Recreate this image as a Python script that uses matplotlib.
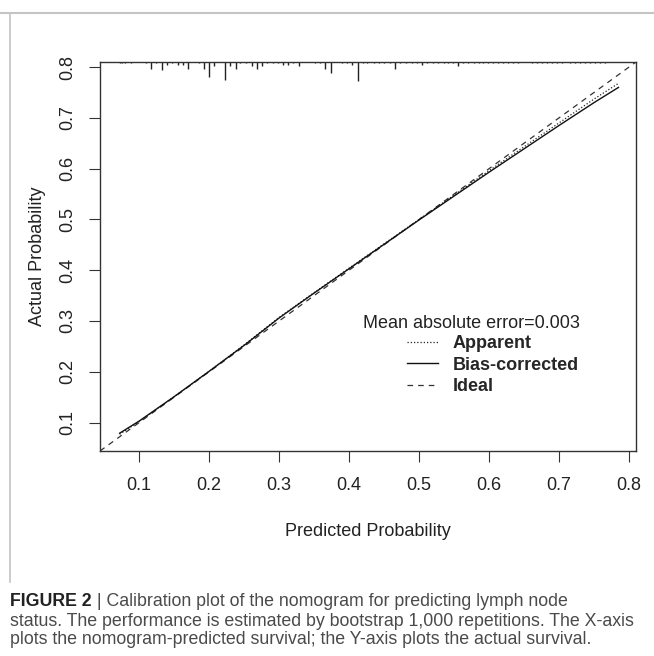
import numpy as np
import matplotlib.pyplot as plt
from matplotlib.lines import Line2D
import matplotlib.transforms as mtransforms

# calibration curves
pred_x = [0.072, 0.10, 0.15, 0.20, 0.25, 0.30, 0.35, 0.40, 0.45, 0.50,
          0.55, 0.60, 0.65, 0.70, 0.75, 0.785]
apparent = [0.077, 0.102, 0.151, 0.201, 0.253, 0.307, 0.356, 0.404, 0.452, 0.500,
            0.548, 0.596, 0.643, 0.690, 0.737, 0.768]
bias_corrected = [0.079, 0.103, 0.151, 0.201, 0.252, 0.306, 0.355, 0.403, 0.451, 0.499,
                  0.546, 0.593, 0.639, 0.685, 0.730, 0.760]

# distribution of predicted probabilities (rug on top axis)
rug_x = [0.072, 0.075, 0.080, 0.088, 0.110, 0.117, 0.124, 0.132, 0.140, 0.147,
         0.155, 0.162, 0.170, 0.185, 0.192, 0.200, 0.207, 0.222, 0.230, 0.238,
         0.244, 0.253, 0.261, 0.268, 0.276, 0.283, 0.291, 0.299, 0.306, 0.313,
         0.320, 0.329, 0.351, 0.359, 0.366, 0.374, 0.390, 0.397, 0.404, 0.412,
         0.420, 0.426, 0.435, 0.443, 0.450, 0.458, 0.466, 0.473, 0.481, 0.490,
         0.497, 0.504, 0.511, 0.520, 0.527, 0.535, 0.542, 0.549, 0.556, 0.563,
         0.570, 0.578, 0.585, 0.591, 0.599, 0.606, 0.613, 0.620, 0.627, 0.634,
         0.641, 0.661, 0.669, 0.676, 0.683, 0.690, 0.697, 0.704, 0.716, 0.723,
         0.730, 0.737, 0.744, 0.751, 0.759, 0.766]
rug_n = [1, 1, 1, 1, 1, 5, 1, 6, 2, 1,
         2, 2, 5, 1, 5, 11, 3, 13, 3, 5,
         1, 1, 3, 5, 3, 1, 1, 1, 2, 2,
         1, 3, 1, 1, 5, 8, 1, 1, 2, 14,
         1, 1, 1, 1, 1, 1, 5, 1, 1, 1,
         1, 2, 1, 1, 1, 1, 1, 1, 3, 1,
         1, 1, 1, 1, 1, 1, 1, 1, 1, 1,
         1, 1, 1, 1, 1, 1, 1, 1, 1, 1,
         1, 1, 1, 1, 1, 1]

ticks = [0.1, 0.2, 0.3, 0.4, 0.5, 0.6, 0.7, 0.8]
lims = [0.044, 0.81]
mae_text = "Mean absolute error=0.003"
legend_labels = ["Apparent", "Bias-corrected", "Ideal"]
caption_lines = [
    " | Calibration plot of the nomogram for predicting lymph node",
    "status. The performance is estimated by bootstrap 1,000 repetitions. The X-axis",
    "plots the nomogram-predicted survival; the Y-axis plots the actual survival.",
]

W, H = 654, 656
FS = 13
plt.rcParams['font.family'] = ['Liberation Sans', 'DejaVu Sans']
fig = plt.figure(figsize=(W / 100, H / 100), dpi=100)
fig.patch.set_facecolor('white')

# page frame lines
fig.add_artist(Line2D([0, 1], [1 - 13 / H, 1 - 13 / H], color='#c4c4c4', lw=1.5))
fig.add_artist(Line2D([10 / W, 10 / W], [1 - 13 / H, 1 - 582 / H], color='#c4c4c4', lw=1.2))

ax = fig.add_axes([100 / W, 1 - 451 / H, 536 / W, 389 / H])
ax.set_xlim(lims)
ax.set_ylim(lims)

ideal_style = dict(color='#333333', lw=0.9, dashes=(4.5, 4))
app_style = dict(color='#222222', lw=0.9, dashes=(1, 1.6))
bias_style = dict(color='#111111', lw=1.0)

ax.plot(lims, lims, **ideal_style)
ax.plot(pred_x, apparent, **app_style)
ax.plot(pred_x, bias_corrected, **bias_style)

# rug of predictions hanging from top axis
trans = mtransforms.blended_transform_factory(ax.transData, ax.transAxes)
rug_len = np.array(rug_n) * 1.35 / 389
ax.vlines(rug_x, 1 - rug_len, 1, transform=trans, color='#222222', lw=1.0)

for s in ax.spines.values():
    s.set_linewidth(1.0)
    s.set_color('#333333')

ax.set_xticks(ticks)
ax.set_yticks(ticks)
ax.set_xticklabels([f"{t:.1f}" for t in ticks])
ax.set_yticklabels([f"{t:.1f}" for t in ticks], rotation=90, va='center')
ax.tick_params(direction='out', length=8, width=0.8, color='#333333',
               labelsize=FS, labelcolor='#222222')
ax.tick_params(axis='x', pad=11)
ax.tick_params(axis='y', pad=9)

ax.set_xlabel("Predicted Probability", fontsize=FS, color='#222222')
ax.set_ylabel("Actual Probability", fontsize=FS, color='#222222')
ax.xaxis.set_label_coords(0.5, (451 - 532) / 389)
ax.yaxis.set_label_coords((37 - 100) / 536, 0.5)
ax.xaxis.label.set_va('center')
ax.yaxis.label.set_va('center')

ax.text((363 - 100) / 536, (451 - 324) / 389, mae_text, transform=ax.transAxes,
        fontsize=FS, va='center', ha='left', color='#222222')

handles = [Line2D([], [], **app_style), Line2D([], [], **bias_style),
           Line2D([], [], **ideal_style)]
leg = ax.legend(handles, legend_labels, loc='upper left',
                bbox_to_anchor=((407 - 100) / 536, (451 - 335) / 389), frameon=False,
                prop={'size': FS, 'weight': 'bold'}, handlelength=1.7,
                handletextpad=0.85, labelspacing=0.25, borderpad=0, borderaxespad=0)
for t in leg.get_texts():
    t.set_color('#262626')

# caption, sized so the second line spans the page width
cap_family = ['Liberation Sans']
cap_color = '#4a4a4a'
renderer = fig.canvas.get_renderer()
probe = fig.text(0, 0, caption_lines[1], fontsize=10, family=cap_family)
w10 = probe.get_window_extent(renderer).width
probe.remove()
cap_size = 10 * 627 / w10

x0 = 10 / W
head = fig.text(x0, 1 - 602 / H, "FIGURE 2", fontsize=cap_size, family=cap_family,
                weight='bold', va='center', color='#222222')
hw = head.get_window_extent(renderer).width
fig.text(x0 + hw / W, 1 - 602 / H, caption_lines[0], fontsize=cap_size,
         family=cap_family, va='center', color=cap_color)
fig.text(x0, 1 - 621 / H, caption_lines[1], fontsize=cap_size, family=cap_family,
         va='center', color=cap_color)
fig.text(x0, 1 - 640 / H, caption_lines[2], fontsize=cap_size, family=cap_family,
         va='center', color=cap_color)

fig.savefig("out.png", dpi=100, facecolor='white')
